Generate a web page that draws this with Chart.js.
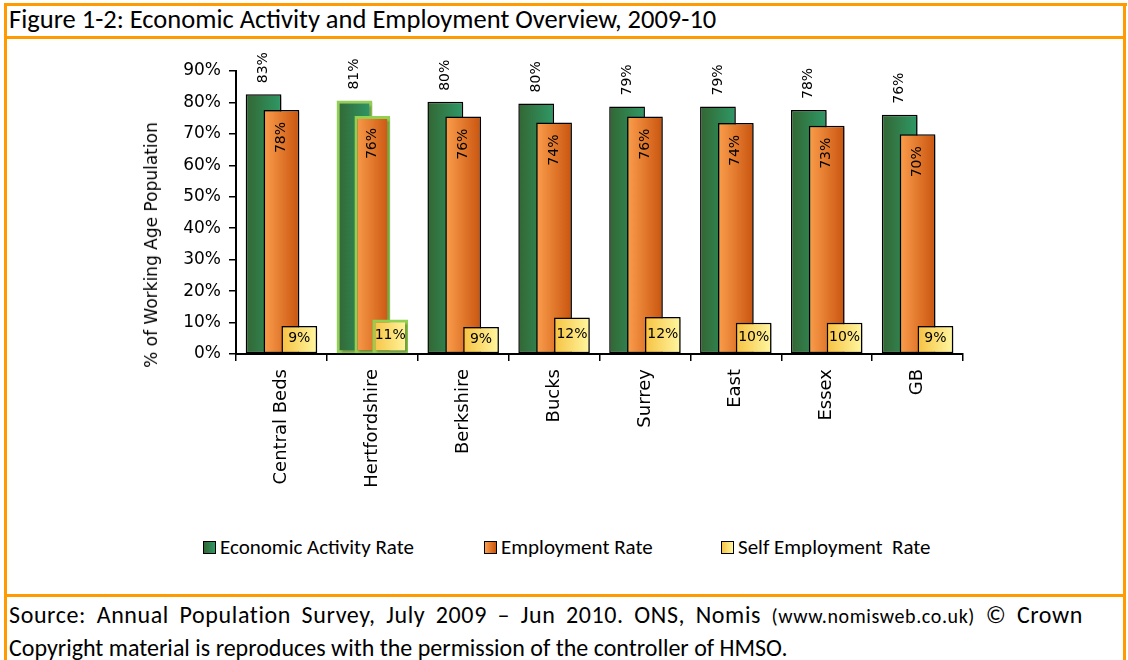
<!DOCTYPE html>
<html>
<head>
<meta charset="utf-8">
<script src="https://cdn.jsdelivr.net/npm/chart.js@4.4.1/dist/chart.umd.min.js"></script>
<style>
    body { margin: 0; background: #fff; width: 1128px; height: 660px; position: relative; overflow: hidden; }
    .rule { position: absolute; background: #FF9A00; }
    .caption { position: absolute; font-family: Carlito, Calibri, Lato, sans-serif; color: #000; white-space: nowrap; }
    .justified { width: 1074px; text-align: justify; text-align-last: justify; letter-spacing: 0.6px; }
    #chartBox { position: absolute; left: 6px; top: 40px; width: 1117px; height: 480px; }
    #yTitle { position: absolute; left: 151px; top: 245px; transform: translate(-50%, -50%) rotate(-90deg);
              font-family: "DejaVu Sans", sans-serif; font-size: 17px; white-space: nowrap; }
    .legend-item { position: absolute; top: 534px; font-family: Carlito, Calibri, Lato, sans-serif; font-size: 21px; white-space: pre; }
    .legend-item i { display: inline-block; width: 11px; height: 11px; border: 1px solid #000; margin-right: 4px; vertical-align: 0px; }
</style>
</head>
<body>
<div class="rule" style="left:4px; top:3px; width:1123px; height:3px;"></div>
<div class="rule" style="left:4px; top:3px; width:3px; height:657px;"></div>
<div class="rule" style="left:1123px; top:3px; width:3px; height:657px;"></div>
<div class="rule" style="left:4px; top:36px; width:1122px; height:3px;"></div>
<div class="rule" style="left:4px; top:594px; width:1122px; height:3px;"></div>

<div class="caption" style="left:9px; top:3px; font-size:26.5px;">Figure 1-2: Economic Activity and Employment Overview, 2009-10</div>

<div id="chartBox"><canvas id="overviewChart"></canvas></div>
<div id="yTitle">% of Working Age Population</div>

<div class="legend-item" style="left:203px;"><i style="background:linear-gradient(90deg,#336633,#2E9966);"></i>Economic Activity Rate</div>
<div class="legend-item" style="left:484px;"><i style="background:linear-gradient(90deg,#FB9E4C,#C9540E);"></i>Employment Rate</div>
<div class="legend-item" style="left:721px;"><i style="background:linear-gradient(90deg,#F6C242,#FFF7A0);"></i>Self Employment  Rate</div>

<div class="caption justified" style="left:9px; top:600px; font-size:24px;">Source: Annual Population Survey, July 2009 – Jun 2010. ONS, Nomis <span style="font-size:20px;">(www.nomisweb.co.uk)</span> © Crown</div>
<div class="caption" style="left:9px; top:633px; font-size:24px;">Copyright material is reproduces with the permission of the controller of HMSO.</div>

<script>
const areas = ['Central Beds', 'Hertfordshire', 'Berkshire', 'Bucks', 'Surrey', 'East', 'Essex', 'GB'];
const activityRate = [82.6, 80.6, 80.2, 79.7, 78.7, 78.7, 77.6, 76.1];
const employmentRate = [77.6, 75.7, 75.5, 73.6, 75.5, 73.5, 72.6, 69.9];
const selfEmploymentRate = [8.9, 11.0, 8.6, 11.6, 11.8, 9.9, 9.9, 8.9];
const yTicks = [0, 10, 20, 30, 40, 50, 60, 70, 80, 90];

const CAT_PCT = 0.59;
const HIGHLIGHT = 1; // Hertfordshire

// horizontal gradient across each bar, worked out from the category scale
function barFill(left, right) {
    return function(ctx) {
        if (ctx.type !== 'data') return left;
        const xs = ctx.chart.scales.x;
        if (!xs || !xs.width) return left;
        const catW = xs.getPixelForValue(1) - xs.getPixelForValue(0);
        const slot = catW * CAT_PCT / 3;
        const mid = xs.getPixelForValue(ctx.dataIndex) + (ctx.datasetIndex - 1) * slot;
        const g = ctx.chart.ctx.createLinearGradient(mid - slot, 0, mid + slot, 0);
        g.addColorStop(0, left);
        g.addColorStop(1, right);
        return g;
    };
}

const edgeColor = ctx => ctx.dataIndex === HIGHLIGHT ? '#92D050' : '#000';
const edgeWidth = ctx => ctx.dataIndex === HIGHLIGHT ? 3 : 1.5;

// draw the series left to right so each bar sits over the one before it
const orderedBars = {
    id: 'orderedBars',
    beforeDatasetsDraw(chart) {
        const c = chart.ctx;
        c.save();
        c.shadowColor = 'rgba(0,0,0,0.3)';
        c.shadowOffsetX = 2;
        c.shadowOffsetY = 2;
        c.shadowBlur = 2;
        chart.data.datasets.forEach((ds, i) => chart.getDatasetMeta(i).controller.draw());
        c.restore();
        return false;
    },
    afterDraw(chart) {
        const c = chart.ctx;
        c.save();
        c.fillStyle = '#000';
        c.font = '14px "DejaVu Sans"';
        chart.data.datasets.forEach((ds, i) => {
            chart.getDatasetMeta(i).data.forEach((el, j) => {
                const text = Math.round(ds.data[j]) + '%';
                c.save();
                if (i === 0) {
                    c.translate(el.x, el.y - 11);
                    c.rotate(-Math.PI / 2);
                    c.textAlign = 'left';
                    c.textBaseline = 'middle';
                    c.fillText(text, 0, 0);
                } else if (i === 1) {
                    c.translate(el.x, el.y + 12);
                    c.rotate(-Math.PI / 2);
                    c.textAlign = 'right';
                    c.textBaseline = 'middle';
                    c.fillText(text, 0, 0);
                } else {
                    c.textAlign = 'center';
                    c.textBaseline = 'middle';
                    c.fillText(text, el.x, (el.y + el.base) / 2 - 1);
                }
                c.restore();
            });
        });
        c.restore();
    }
};

new Chart(document.getElementById('overviewChart'), {
    type: 'bar',
    data: {
        labels: areas,
        datasets: [{
            label: 'Economic Activity Rate',
            data: activityRate,
            backgroundColor: barFill('#336633', '#2E9966')
        }, {
            label: 'Employment Rate',
            data: employmentRate,
            backgroundColor: barFill('#FB9E4C', '#C9540E')
        }, {
            label: 'Self Employment Rate',
            data: selfEmploymentRate,
            backgroundColor: barFill('#F6C242', '#FFF7A0')
        }]
    },
    options: {
        responsive: true,
        maintainAspectRatio: false,
        animation: false,
        categoryPercentage: CAT_PCT,
        barPercentage: 2,
        datasets: {
            bar: {
                borderColor: edgeColor,
                borderWidth: edgeWidth,
                borderSkipped: false
            }
        },
        layout: { padding: { left: 0, top: 31, right: 160, bottom: 0 } },
        plugins: {
            legend: { display: false },
            tooltip: { enabled: false }
        },
        scales: {
            x: {
                grid: { offset: true, drawOnChartArea: false, tickLength: 7, color: '#000', lineWidth: 1.5 },
                border: { color: '#000', width: 2 },
                ticks: {
                    color: '#000',
                    font: { family: 'DejaVu Sans', size: 18 },
                    minRotation: 90,
                    maxRotation: 90,
                    autoSkip: false,
                    padding: 8
                },
                afterFit: s => { s.height = 166; }
            },
            y: {
                min: 0,
                max: 90,
                afterBuildTicks: s => { s.ticks = yTicks.map(v => ({ value: v })); },
                grid: { drawOnChartArea: false, tickLength: 7, color: '#000', lineWidth: 1.5 },
                border: { color: '#000', width: 2 },
                ticks: {
                    color: '#000',
                    font: { family: 'DejaVu Sans', size: 17 },
                    padding: 8,
                    callback: v => v + '%'
                },
                afterFit: s => { s.width = 230; }
            }
        }
    },
    plugins: [orderedBars]
});
</script>
</body>
</html>
